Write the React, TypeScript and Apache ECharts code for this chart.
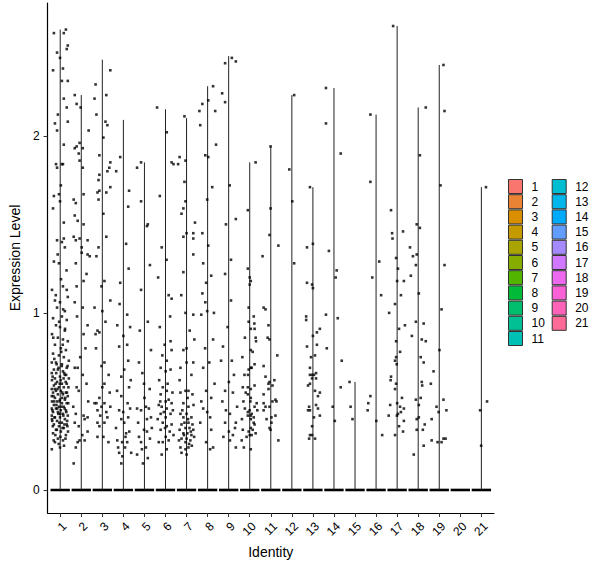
import React, { useEffect, useRef } from "react";
import * as echarts from "echarts";

// cluster names, shown on the x axis and in the legend
const clusters = ["1", "2", "3", "4", "5", "6", "7", "8", "9", "10", "11", "12", "13", "14", "15", "16", "17", "18", "19", "20", "21"];

// highest expression per cluster (top of each thin violin)
const violinMax = [2.6, 2.23, 2.43, 2.09, 1.85, 2.15, 2.1, 2.28, 2.45, 1.85, 1.94, 2.23, 1.71, 2.27, 0.61, 2.12, 2.62, 2.16, 2.4, 0, 1.71];

const yTicks = [0, 1, 2];

// expressing cells per cluster: [jitter (category units), expression level]
const cells1: [number, number][] = [
  [-0.3, 2.58], [0.17, 2.58], [0.27, 2.6], [-0.15, 2.47], [-0.01, 2.44], [0.36, 2.51], [0.31, 2.49], [-0.34, 2.37],
  [0.13, 2.38], [0.08, 2.31], [0.36, 2.31], [0.17, 2.21], [0.31, 2.16], [-0.11, 2.12], [-0.25, 2.07], [0.36, 2.08],
  [-0.15, 2.03], [0.17, 1.95], [-0.2, 1.84], [-0.15, 1.82], [0.08, 1.84], [0.13, 1.84], [0.03, 1.72], [-0.3, 1.66],
  [-0.06, 1.67], [-0.01, 1.63], [-0.34, 1.59], [0.17, 1.51], [-0.15, 1.41], [0.17, 1.42], [0.08, 1.4], [0.22, 1.37],
  [-0.3, 1.29], [-0.06, 1.28], [-0.39, 1.13], [0.13, 1.15], [0.31, 1.13], [-0.25, 1.07], [-0.01, 1.06], [0.36, 1.09],
  [-0.15, 1.03], [0.22, 1.01], [-0.34, 0.97], [0.08, 0.98], [0.31, 0.96], [-0.2, 0.93], [-0.01, 0.92], [0.22, 0.9],
  [-0.39, 0.88], [-0.11, 0.86], [0.13, 0.85], [0.36, 0.84], [-0.25, 0.82], [0.03, 0.8], [0.27, 0.79], [-0.34, 0.77],
  [-0.06, 0.76], [0.17, 0.75], [0.41, 0.73], [-0.4, 0.72], [-0.2, 0.72], [0.08, 0.71], [0.31, 0.69], [-0.3, 0.68],
  [-0.11, 0.68], [0.13, 0.67], [-0.4, 0.66], [0.22, 0.65], [-0.01, 0.64], [-0.25, 0.63], [0.41, 0.63], [-0.39, 0.62],
  [-0.15, 0.61], [0.08, 0.6], [0.31, 0.6], [-0.3, 0.59], [-0.06, 0.58], [0.17, 0.58], [-0.4, 0.57], [-0.2, 0.56],
  [0.03, 0.56], [0.27, 0.55], [-0.34, 0.55], [-0.11, 0.54], [0.13, 0.54], [0.36, 0.53], [-0.4, 0.53], [-0.25, 0.52],
  [-0.01, 0.51], [0.22, 0.51], [-0.39, 0.5], [-0.15, 0.5], [0.08, 0.49], [0.31, 0.49], [-0.3, 0.48], [-0.06, 0.47],
  [0.17, 0.47], [-0.4, 0.46], [-0.2, 0.46], [0.03, 0.45], [0.27, 0.45], [-0.34, 0.44], [-0.11, 0.44], [0.13, 0.43],
  [0.36, 0.42], [-0.4, 0.42], [-0.25, 0.41], [-0.01, 0.41], [0.22, 0.4], [-0.39, 0.4], [-0.15, 0.39], [0.08, 0.38],
  [0.31, 0.37], [-0.3, 0.37], [-0.06, 0.36], [0.17, 0.35], [-0.2, 0.34], [0.03, 0.33], [-0.34, 0.32], [0.27, 0.31],
  [-0.11, 0.29], [0.13, 0.28], [-0.25, 0.27], [-0.01, 0.24], [-0.4, 0.23],
  [0.05, 0.78], [-0.28, 0.74], [0.35, 0.7], [-0.08, 0.69], [0.19, 0.66], [-0.36, 0.64], [0.02, 0.62], [0.26, 0.61],
  [-0.22, 0.6], [0.39, 0.58], [-0.13, 0.57], [0.1, 0.55], [-0.32, 0.53], [0.24, 0.52], [-0.03, 0.5], [0.38, 0.49],
  [-0.18, 0.48], [0.06, 0.47], [-0.37, 0.45], [0.29, 0.44], [-0.09, 0.43], [0.15, 0.42], [-0.27, 0.41], [0.33, 0.39],
  [-0.04, 0.38], [0.2, 0.37], [-0.35, 0.36], [0.11, 0.35], [-0.16, 0.34], [0.37, 0.33], [-0.23, 0.31], [0.01, 0.3],
  [0.25, 0.29], [-0.31, 0.28], [-0.07, 0.26], [0.18, 0.25], [0.34, 0.36], [-0.38, 0.39], [0.09, 0.52], [-0.26, 0.57],
  [0.28, 0.65], [-0.17, 0.71], [0.12, 0.82], [-0.33, 0.86], [0.23, 0.91], [-0.05, 0.95], [0.14, 1.02], [-0.21, 1.1],
  [0.04, 1.19], [0.3, 1.24], [-0.12, 1.33], [0.21, 0.46], [-0.14, 0.46], [0.0, 0.43], [-0.29, 0.5], [0.32, 0.55],
  [-0.02, 0.6], [0.16, 0.63], [-0.19, 0.66], [0.07, 0.7],
];
const cells2: [number, number][] = [
  [-0.31, 2.23], [-0.22, 2.18], [-0.03, 2.16], [-0.31, 1.93], [-0.22, 1.94], [-0.12, 1.9], [-0.08, 1.96], [0.07, 1.93],
  [-0.08, 1.86], [0.07, 1.82], [0.11, 1.67], [-0.36, 1.64], [-0.26, 1.62], [-0.31, 1.55], [-0.17, 1.52], [0.11, 1.5],
  [-0.36, 1.43], [-0.26, 1.41], [-0.08, 1.42], [0.02, 1.37], [0.3, 1.41], [0.35, 2.03],
  [-0.26, 1.28], [0.02, 1.34], [0.3, 1.33], [0.4, 1.32], [0.11, 1.18], [-0.22, 1.15], [-0.31, 1.06], [0.07, 1.03],
  [0.11, 0.88], [0.3, 0.93], [-0.31, 0.69], [-0.17, 0.69], [0.07, 0.65], [-0.22, 0.58], [-0.12, 0.56], [0.25, 0.6],
  [0.11, 0.42], [-0.26, 0.43], [0.16, 0.4], [-0.31, 0.38], [0.3, 0.41], [-0.12, 0.36], [0.3, 0.33], [0.16, 0.28],
  [-0.26, 0.24], [-0.17, 0.27], [-0.08, 0.28], [-0.36, 0.15], [0.2, 0.8], [-0.05, 0.75], [0.33, 0.5], [-0.38, 0.47],
  [0.05, 0.31], [-0.2, 0.98], [0.25, 1.22],
];
const cells3: [number, number][] = [
  [-0.32, 2.29], [0.19, 2.23], [0.38, 2.37], [-0.37, 2.21], [-0.28, 2.12], [0.15, 2.08], [0.24, 2.06], [0.05, 1.99],
  [-0.14, 1.89], [0.38, 1.85], [0.33, 1.82], [0.24, 1.8], [-0.14, 1.78], [-0.18, 1.75], [0.38, 1.71], [-0.14, 1.69],
  [-0.23, 1.68], [0.19, 1.68], [-0.18, 1.64], [0.05, 1.56], [0.19, 1.43], [-0.18, 1.37],
  [-0.28, 1.32], [0.1, 1.18], [-0.04, 1.15], [0.38, 1.07], [-0.37, 1.03], [0.0, 1.01], [-0.23, 0.9], [-0.14, 0.89],
  [-0.32, 0.88], [0.1, 0.72], [-0.04, 0.7], [0.0, 0.58], [0.1, 0.6], [-0.37, 0.49], [-0.28, 0.49], [-0.14, 0.52],
  [0.1, 0.49], [-0.04, 0.47], [-0.23, 0.45], [0.19, 0.44], [0.24, 0.41], [0.1, 0.38], [-0.14, 0.36], [-0.23, 0.3],
  [0.05, 0.3], [0.29, 0.27], [0.38, 0.47], [-0.23, 0.38], [0.3, 0.65], [-0.3, 0.8], [0.15, 0.95], [-0.1, 0.42],
  [0.35, 0.55],
];
const cells4: [number, number][] = [
  [-0.34, 1.8], [-0.15, 1.88], [0.27, 1.69], [0.23, 1.6], [0.13, 1.39],
  [-0.15, 1.17], [-0.29, 0.93], [0.32, 0.92], [0.18, 0.99], [-0.2, 0.81], [0.18, 0.82], [0.23, 0.73], [0.04, 0.68],
  [-0.1, 0.64], [0.27, 0.58], [-0.1, 0.53], [0.32, 0.46], [-0.2, 0.45], [-0.01, 0.44], [0.23, 0.41], [-0.1, 0.4],
  [0.04, 0.38], [0.13, 0.32], [-0.29, 0.28], [-0.06, 0.27], [0.18, 0.27], [-0.2, 0.21], [-0.1, 0.15], [0.08, 0.24],
  [0.37, 0.21], [-0.35, 0.35], [0.1, 0.3], [-0.25, 0.24], [0.28, 0.33], [-0.05, 0.19], [0.2, 0.49], [-0.3, 0.56],
  [0.35, 0.62], [0.0, 0.87], [-0.18, 1.05], [0.25, 1.25],
];
const cells5: [number, number][] = [
  [-0.35, 1.82], [-0.16, 1.85], [-0.16, 1.63], [0.12, 1.49], [0.16, 1.5],
  [-0.16, 1.13], [0.16, 0.95], [0.26, 1.27], [-0.26, 0.72], [0.31, 0.79], [-0.02, 0.6], [-0.35, 0.46], [-0.16, 0.45],
  [0.07, 0.47], [0.21, 0.46], [0.31, 0.41], [0.12, 0.4], [-0.02, 0.34], [-0.26, 0.3], [0.12, 0.33], [-0.16, 0.27],
  [-0.12, 0.23], [-0.35, 0.2], [0.16, 0.18], [-0.07, 0.15], [0.07, 0.24], [0.26, 0.29], [-0.3, 0.38], [0.35, 0.35],
  [0.0, 0.52], [-0.1, 0.66], [0.25, 0.57], [-0.22, 0.9],
];
const cells6: [number, number][] = [
  [-0.4, 2.16], [0.06, 2.02], [-0.27, 1.66], [-0.18, 1.37], [0.29, 1.85], [0.38, 1.84],
  [0.29, 1.08], [0.15, 1.1], [-0.27, 0.92], [-0.04, 0.82], [0.24, 0.84], [0.29, 0.79], [0.06, 0.73], [-0.23, 0.69],
  [0.01, 0.67], [0.24, 0.68], [-0.13, 0.58], [0.06, 0.56], [-0.23, 0.54], [0.15, 0.51], [0.01, 0.5], [0.29, 0.49],
  [-0.32, 0.48], [-0.18, 0.47], [0.06, 0.46], [-0.23, 0.43], [0.01, 0.41], [0.24, 0.43], [-0.13, 0.38], [0.06, 0.36],
  [0.29, 0.37], [-0.23, 0.34], [0.01, 0.3], [0.15, 0.28], [-0.13, 0.27], [-0.32, 0.27], [0.06, 0.23], [-0.18, 0.2],
  [0.35, 0.45], [-0.37, 0.4], [0.2, 0.33], [-0.08, 0.44], [0.1, 0.6], [-0.3, 0.62], [0.33, 0.55], [-0.15, 0.76],
  [0.22, 0.98], [-0.35, 1.2], [0.05, 1.3], [0.38, 0.31], [-0.02, 0.35], [-0.25, 0.5],
];
const cells7: [number, number][] = [
  [-0.4, 1.84], [-0.33, 1.88], [-0.1, 2.11], [-0.05, 1.86], [-0.1, 1.74], [-0.05, 1.63], [-0.15, 1.59], [-0.24, 1.56],
  [0.0, 1.45], [-0.15, 1.43], [0.32, 1.45], [0.4, 1.51], [0.32, 1.42],
  [-0.15, 1.23], [0.32, 1.33], [-0.05, 1.0], [0.32, 0.99], [-0.15, 0.79], [0.0, 0.8], [0.37, 0.85], [0.0, 0.72],
  [0.32, 0.72], [-0.29, 0.69], [0.23, 0.65], [-0.05, 0.56], [0.09, 0.56], [-0.29, 0.55], [0.28, 0.54], [-0.15, 0.49],
  [0.09, 0.47], [-0.29, 0.43], [0.0, 0.43], [0.23, 0.41], [-0.15, 0.41], [0.09, 0.38], [0.28, 0.37], [-0.24, 0.37],
  [-0.05, 0.35], [0.14, 0.35], [0.32, 0.34], [-0.33, 0.34], [-0.15, 0.32], [0.04, 0.32], [0.23, 0.31], [-0.24, 0.29],
  [0.0, 0.29], [0.18, 0.28], [-0.05, 0.27], [-0.29, 0.24], [0.09, 0.24], [-0.05, 0.23], [-0.24, 0.21], [0.0, 0.2],
  [0.36, 0.3], [-0.36, 0.28], [0.12, 0.26], [-0.1, 0.38], [0.2, 0.33], [-0.2, 0.45], [0.33, 0.48], [0.05, 0.52],
  [-0.33, 0.62], [0.15, 0.9], [-0.25, 1.1], [0.25, 0.25], [-0.12, 0.31], [0.07, 0.4],
];
const cells8: [number, number][] = [
  [-0.39, 2.14], [-0.25, 2.18], [-0.35, 2.06], [-0.11, 1.89], [0.03, 2.2], [0.03, 1.88], [-0.02, 1.64], [0.26, 2.28],
  [0.36, 2.14], [0.4, 1.95], [0.22, 1.71], [-0.25, 1.45], [0.03, 1.38],
  [-0.21, 1.28], [0.17, 1.21], [-0.07, 1.17], [-0.25, 1.11], [-0.11, 1.06], [-0.02, 1.01], [-0.3, 0.99], [0.26, 0.85],
  [-0.21, 0.69], [0.08, 0.72], [-0.07, 0.56], [0.17, 0.52], [-0.21, 0.46], [-0.02, 0.44], [0.12, 0.41], [0.17, 0.34],
  [-0.07, 0.27], [0.12, 0.23], [0.26, 0.24], [-0.35, 0.38], [0.33, 0.6], [-0.12, 0.8], [0.3, 1.0], [-0.3, 0.5],
];
const cells9: [number, number][] = [
  [0.15, 2.44], [-0.17, 2.41], [0.34, 2.42], [-0.17, 2.19], [-0.31, 2.24], [-0.13, 1.5], [0.34, 1.53], [0.05, 1.72],
  [0.11, 1.3], [-0.17, 1.22], [0.11, 1.07], [-0.27, 0.81], [-0.36, 0.73], [0.15, 0.73], [0.01, 0.61], [-0.17, 0.56],
  [0.2, 0.55], [-0.13, 0.45], [0.06, 0.43], [0.34, 0.38], [-0.17, 0.38], [0.01, 0.33], [0.2, 0.31], [0.4, 0.47],
  [0.06, 0.28], [0.34, 0.24], [-0.3, 0.5], [0.25, 0.65], [-0.05, 0.92], [0.3, 0.35], [-0.25, 0.3],
];
const cells10: [number, number][] = [
  [0.28, 1.85], [-0.09, 1.58],
  [-0.09, 1.25], [0.0, 1.2], [0.05, 1.18], [-0.05, 1.03], [-0.05, 0.95], [0.19, 0.98], [0.22, 0.94], [0.05, 0.91],
  [0.23, 0.91], [0.28, 0.86], [0.3, 0.84], [0.05, 0.79], [0.14, 0.78], [0.23, 0.71], [0.09, 0.69], [-0.05, 0.68],
  [-0.08, 0.65], [0.23, 0.59], [-0.09, 0.58], [0.05, 0.57], [-0.09, 0.54], [0.05, 0.52], [0.03, 0.5], [0.33, 0.49],
  [0.23, 0.47], [0.05, 0.42], [0.09, 0.43], [0.19, 0.41], [-0.09, 0.42], [0.05, 0.4], [0.19, 0.38], [0.23, 0.37],
  [0.05, 0.35], [0.14, 0.34], [0.28, 0.32], [-0.05, 0.33], [0.09, 0.31],
  [0.0, 1.16], [-0.23, 0.86], [0.05, 0.69], [-0.33, 0.58], [-0.19, 0.55], [0.0, 0.45], [-0.23, 0.46], [-0.09, 0.44],
  [-0.33, 0.34], [0.0, 0.31], [-0.28, 0.24], [0.05, 0.23], [-0.37, 0.4], [-0.3, 0.5], [-0.25, 0.65], [-0.35, 0.75],
  [-0.15, 0.3], [0.36, 0.45], [-0.38, 0.28],
];
const cells11: [number, number][] = [
  [-0.01, 1.94], [-0.01, 1.59], [-0.06, 1.44], [0.36, 1.38],
  [-0.39, 1.32], [-0.34, 1.03], [-0.25, 1.02], [-0.11, 0.93], [-0.15, 0.86], [-0.06, 0.85], [0.31, 0.76], [-0.34, 0.7],
  [-0.25, 0.64], [-0.11, 0.6], [-0.06, 0.61], [0.17, 0.62], [0.08, 0.59], [-0.34, 0.54], [-0.11, 0.57], [0.22, 0.51],
  [0.27, 0.5], [-0.34, 0.49], [-0.06, 0.47], [-0.25, 0.47], [0.08, 0.5], [-0.34, 0.45], [0.03, 0.41], [0.22, 0.42],
  [-0.2, 0.4], [0.03, 0.38], [-0.06, 0.35], [-0.01, 0.34], [0.36, 0.28],
];
const cells12: [number, number][] = [[0.11, 2.23], [-0.12, 1.81], [0.02, 1.63], [0.11, 1.28]];
const cells13: [number, number][] = [
  [-0.14, 1.71], [0.0, 1.39], [-0.28, 1.37], [-0.28, 1.17], [-0.04, 1.16], [0.0, 1.14], [-0.32, 0.98], [-0.32, 0.96],
  [0.33, 0.91], [0.19, 0.89], [0.0, 0.87], [-0.28, 0.81], [0.19, 0.82], [-0.09, 0.75], [0.1, 0.76], [-0.14, 0.69],
  [-0.14, 0.65], [-0.04, 0.65], [0.05, 0.65], [0.15, 0.66], [-0.04, 0.63], [0.15, 0.63], [-0.23, 0.59], [-0.14, 0.6],
  [0.1, 0.56], [0.33, 0.55], [0.24, 0.53], [-0.18, 0.47], [-0.14, 0.45], [-0.23, 0.45], [0.15, 0.48], [0.24, 0.46],
  [0.05, 0.41], [0.33, 0.42], [-0.04, 0.36], [-0.14, 0.31], [-0.04, 0.31], [-0.18, 0.29], [0.1, 0.29],
];
const cells14: [number, number][] = [
  [-0.38, 2.27], [-0.38, 2.07], [0.32, 1.9], [-0.24, 1.35], [0.13, 1.24], [0.08, 1.2], [0.18, 0.97], [-0.38, 0.99],
  [-0.34, 0.8], [0.37, 0.73], [0.32, 0.58], [-0.06, 0.47], [0.04, 0.39],
];
const cells15: [number, number][] = [[-0.26, 0.61], [-0.21, 0.47], [-0.12, 0.4]];
const cells16: [number, number][] = [
  [-0.27, 2.12], [-0.27, 1.74], [-0.18, 1.2], [0.24, 1.1], [0.15, 1.29], [-0.27, 0.53], [-0.37, 0.49], [-0.4, 0.45],
  [0.01, 0.39], [0.29, 0.31],
];
const cells17: [number, number][] = [
  [-0.19, 2.62], [-0.29, 1.58], [-0.24, 1.45], [-0.22, 1.42], [0.28, 1.46],
  [-0.05, 1.31], [0.04, 1.25], [0.0, 1.18], [0.32, 1.18], [0.18, 1.1], [-0.1, 1.05], [-0.38, 1.0], [0.37, 0.93],
  [0.09, 0.91], [-0.05, 0.84], [0.14, 0.78], [-0.1, 0.73], [-0.05, 0.75], [-0.02, 0.71], [-0.29, 0.64], [-0.31, 0.62],
  [-0.05, 0.6], [-0.1, 0.57], [0.23, 0.52], [-0.33, 0.48], [0.0, 0.49], [0.14, 0.47], [0.18, 0.44], [0.32, 0.46],
  [0.04, 0.43], [-0.4, 0.42], [-0.01, 0.42], [0.32, 0.39], [0.09, 0.36], [-0.1, 0.31], [0.28, 0.33],
];
const cells18: [number, number][] = [
  [0.36, 2.16], [0.08, 1.89], [-0.07, 1.5], [0.08, 1.48], [-0.39, 1.37],
  [-0.25, 1.32], [-0.07, 1.33], [-0.11, 1.27], [-0.35, 1.21], [0.03, 1.11], [-0.3, 0.87], [-0.11, 0.95], [0.26, 0.94],
  [0.17, 0.85], [0.36, 0.84], [0.12, 0.75], [0.26, 0.72], [0.17, 0.61], [0.19, 0.59], [-0.11, 0.51], [0.12, 0.52],
  [0.03, 0.48], [0.03, 0.41], [-0.07, 0.4], [0.31, 0.37], [-0.07, 0.34], [0.22, 0.34], [-0.21, 0.2], [0.26, 0.25],
];
const cells19: [number, number][] = [
  [0.2, 2.4], [0.25, 2.14], [0.06, 1.72], [0.25, 1.27], [0.11, 1.02], [0.01, 0.79], [-0.27, 0.67], [0.2, 0.51],
  [-0.13, 0.47], [0.34, 0.45], [-0.03, 0.44], [-0.36, 0.4], [-0.36, 0.28], [-0.08, 0.27], [0.11, 0.27], [0.2, 0.29],
  [0.3, 0.29], [-0.4, 0.6],
];
const cells20: [number, number][] = [];
const cells21: [number, number][] = [[0.22, 1.71], [0.27, 0.5], [-0.06, 0.45], [-0.01, 0.25]];

const cellsByCluster = [
  cells1, cells2, cells3, cells4, cells5, cells6, cells7, cells8, cells9, cells10, cells11,
  cells12, cells13, cells14, cells15, cells16, cells17, cells18, cells19, cells20, cells21,
];

// ggplot-like hue palette (hcl, c = 100, l = 65)
function hcl(h: number, c: number, l: number) {
  const WX = 95.047, WY = 100, WZ = 108.883;
  const hr = (h * Math.PI) / 180;
  const U = c * Math.cos(hr);
  const V = c * Math.sin(hr);
  const Y = WY * (l > 7.999592 ? Math.pow((l + 16) / 116, 3) : l / 903.3);
  const t = WX + WY + WZ;
  const x = WX / t, y = WY / t;
  const uN = (2 * x) / (6 * y - x + 1.5);
  const vN = (4.5 * y) / (6 * y - x + 1.5);
  const u = U / (13 * l) + uN;
  const v = V / (13 * l) + vN;
  const X = (9 * Y * u) / (4 * v);
  const Z = -X / 3 - 5 * Y + (3 * Y) / v;
  const g = (a: number) => (a > 0.00304 ? 1.055 * Math.pow(a, 1 / 2.4) - 0.055 : 12.92 * a);
  const rgb = [
    g((3.240479 * X - 1.53715 * Y - 0.498535 * Z) / WY),
    g((-0.969256 * X + 1.875992 * Y + 0.041556 * Z) / WY),
    g((0.055648 * X - 0.204043 * Y + 1.057311 * Z) / WY),
  ];
  return "#" + rgb.map((q) => Math.round(Math.min(1, Math.max(0, q)) * 255).toString(16).padStart(2, "0")).join("");
}

const palette = clusters.map((_, i) => hcl(15 + (i * 360) / clusters.length, 100, 65));

const App: React.FC = () => {
  const chartRef = useRef<HTMLDivElement>(null);

  useEffect(() => {
    if (!chartRef.current) return;
    const chart = echarts.init(chartRef.current, undefined, { renderer: "svg" });

    const tickValues = clusters.map((_, i) => i + 1);
    const points: number[][] = [];
    cellsByCluster.forEach((cells, i) => {
      cells.forEach(([dx, v]) => points.push([i + 1 + dx, v]));
    });

    // thin violin: line up to the max, wide flat part at zero
    const renderViolin = (params: any, api: any) => {
      const k = api.value(0);
      const top = api.value(1);
      const base = api.coord([k, 0]);
      const tip = api.coord([k, top]);
      const half = api.size([0.46, 0])[0];
      const children: any[] = [
        {
          type: "rect",
          shape: { x: base[0] - half, y: base[1] - 1.3, width: half * 2, height: 2.6 },
          style: { fill: "#000" },
        },
      ];
      if (top > 0) {
        children.push({
          type: "line",
          shape: { x1: base[0], y1: base[1], x2: tip[0], y2: tip[1] },
          style: { stroke: "#222", lineWidth: 1 },
        });
      }
      return { type: "group", children };
    };

    chart.setOption({
      animation: false,
      backgroundColor: "#fff",
      textStyle: { fontFamily: "Liberation Sans, Arial, sans-serif" },
      grid: { left: 43, right: 106, top: 3, bottom: 55 },
      legend: {
        data: clusters,
        orient: "vertical",
        left: 508,
        top: 179,
        height: 172,
        padding: 0,
        icon: "rect",
        itemWidth: 14,
        itemHeight: 14,
        itemGap: 0.2,
        selectedMode: false,
        itemStyle: { borderColor: "#333", borderWidth: 1 },
        textStyle: { fontSize: 12, color: "#000", width: 20, lineHeight: 14, padding: [0, 0, 0, 4] },
      },
      xAxis: {
        type: "value",
        min: 0.4,
        max: 21.6,
        name: "Identity",
        nameLocation: "middle",
        nameGap: 25,
        nameTextStyle: { fontSize: 14, color: "#000" },
        splitLine: { show: false },
        axisLine: { show: true, onZero: false, lineStyle: { color: "#000", width: 1.2 } },
        axisTick: { show: true, customValues: tickValues, length: 4, lineStyle: { color: "#333" } },
        axisLabel: {
          customValues: tickValues,
          formatter: (v: number) => clusters[Math.round(v) - 1],
          rotate: 45,
          margin: 7,
          fontSize: 12,
          color: "#000",
          align: "right",
          verticalAlign: "top",
        },
      },
      yAxis: {
        type: "value",
        min: -0.13,
        max: 2.75,
        name: "Expression Level",
        nameLocation: "middle",
        nameGap: 14,
        nameRotate: 90,
        nameTextStyle: { fontSize: 14, color: "#000" },
        splitLine: { show: false },
        axisLine: { show: true, onZero: false, lineStyle: { color: "#000", width: 1.2 } },
        axisTick: { show: true, customValues: yTicks, length: 4, lineStyle: { color: "#333" } },
        axisLabel: { customValues: yTicks, margin: 8, fontSize: 12, color: "#000" },
      },
      series: [
        ...clusters.map((name, i) => ({
          type: "custom",
          name,
          data: [[i + 1, violinMax[i]]],
          itemStyle: { color: palette[i] },
          renderItem: renderViolin,
          silent: true,
          z: 2,
        })),
        {
          type: "scatter",
          name: "cells",
          data: points,
          symbol: "rect",
          symbolSize: 2.6,
          itemStyle: { color: "#000" },
          silent: true,
          z: 3,
        },
      ],
    });

    return () => {
      chart.dispose();
    };
  }, []);

  return (
    <div
      ref={chartRef}
      style={{ position: "fixed", left: 0, top: 0, width: 600, height: 568, background: "#fff" }}
    />
  );
};

export default App;
